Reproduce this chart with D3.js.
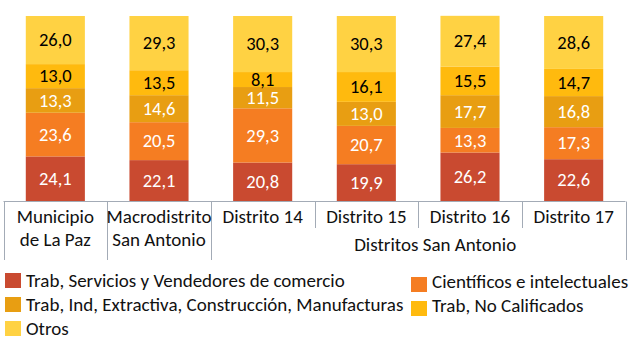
<!DOCTYPE html>
<html>
<head>
<meta charset="utf-8">
<script src="https://cdn.jsdelivr.net/npm/d3@7"></script>
<style>
  body { margin: 0; background: #fff; }
  svg text { font-family: Carlito, Calibri, Lato, sans-serif; }
</style>
</head>
<body>
<svg id="chart" width="630" height="346"></svg>
<script>
// categories along the x axis, with the text split into lines
const categories = ["Municipio de La Paz", "Macrodistrito San Antonio", "Distrito 14", "Distrito 15", "Distrito 16", "Distrito 17"];
const categoryLines = [["Municipio", "de La Paz"], ["Macrodistrito", "San Antonio"], ["Distrito 14"], ["Distrito 15"], ["Distrito 16"], ["Distrito 17"]];
const groupLabel = "Distritos San Antonio";
const groupMembers = ["Distrito 14", "Distrito 15", "Distrito 16", "Distrito 17"];

// percentages per occupation, bottom to top
const trabServicios = [24.1, 22.1, 20.8, 19.9, 26.2, 22.6];
const cientificos = [23.6, 20.5, 29.3, 20.7, 13.3, 17.3];
const trabIndustria = [13.3, 14.6, 11.5, 13.0, 17.7, 16.8];
const noCalificados = [13.0, 13.5, 8.1, 16.1, 15.5, 14.7];
const otros = [26.0, 29.3, 30.3, 30.3, 27.4, 28.6];

const seriesNames = [
  "Trab, Servicios y Vendedores de comercio",
  "Científicos e intelectuales",
  "Trab, Ind, Extractiva, Construcción, Manufacturas",
  "Trab, No Calificados",
  "Otros"
];
const seriesValues = [trabServicios, cientificos, trabIndustria, noCalificados, otros];
const seriesColors = ["#C94A30", "#F57D22", "#E89E12", "#FFBA0E", "#FFD243"];
const labelColors = ["#fff", "#fff", "#fff", "#000", "#000"];

const svg = d3.select("#chart");

// rows for d3.stack
const rows = categories.map((c, i) => {
  const row = { category: c };
  seriesNames.forEach((s, k) => { row[s] = seriesValues[k][i]; });
  return row;
});
const stacked = d3.stack().keys(seriesNames)(rows);

const x = d3.scaleBand()
  .domain(categories)
  .range([3.5, 625.5])
  .paddingInner(0.43)
  .paddingOuter(0.215);

// band edges for the axis separators (no padding)
const xEdge = d3.scaleBand().domain(categories).range([3.5, 625.5]);

const y = d3.scaleLinear().domain([0, 100]).range([201, 16]);

const fmt = v => d3.format(".1f")(v).replace(".", ",");

const layers = svg.append("g").selectAll("g")
  .data(stacked)
  .join("g")
  .attr("fill", (d, k) => seriesColors[k]);

layers.selectAll("rect")
  .data(d => d)
  .join("rect")
  .attr("x", d => x(d.data.category))
  .attr("width", x.bandwidth())
  .attr("y", d => y(d[1]))
  .attr("height", d => y(d[0]) - y(d[1]));

// value labels in the middle of each segment
layers.each(function(layer, k) {
  d3.select(this).selectAll("text")
    .data(layer)
    .join("text")
    .attr("x", d => x(d.data.category) + x.bandwidth() / 2)
    .attr("y", d => (y(d[0]) + y(d[1])) / 2)
    .attr("dy", "0.34em")
    .attr("text-anchor", "middle")
    .attr("font-size", 18.5)
    .attr("fill", labelColors[k])
    .text(d => fmt(d[1] - d[0]));
});

// category axis with a grouped second level
const axis = svg.append("g").attr("stroke", "#A3ABB6").attr("stroke-width", 1);
axis.append("line")
  .attr("x1", xEdge.range()[0]).attr("x2", xEdge.range()[1])
  .attr("y1", 201.5).attr("y2", 201.5);

const groupStart = categories.indexOf(groupMembers[0]);
const edges = categories.map(c => xEdge(c)).concat([xEdge.range()[1]]);
edges.forEach((ex, i) => {
  const inner = i > groupStart && i < groupStart + groupMembers.length;
  axis.append("line")
    .attr("x1", Math.round(ex) + 0.5).attr("x2", Math.round(ex) + 0.5)
    .attr("y1", 201.5).attr("y2", inner ? 228 : 260);
});

const catText = svg.append("g")
  .attr("font-size", 19)
  .attr("fill", "#111")
  .attr("text-anchor", "middle");

categoryLines.forEach((lines, i) => {
  const cx = xEdge(categories[i]) + xEdge.bandwidth() / 2;
  lines.forEach((t, j) => {
    catText.append("text")
      .attr("x", cx)
      .attr("y", 217 + j * 23)
      .attr("dy", "0.34em")
      .text(t);
  });
});

const gx0 = xEdge(groupMembers[0]);
const gx1 = xEdge(groupMembers[groupMembers.length - 1]) + xEdge.bandwidth();
catText.append("text")
  .attr("x", (gx0 + gx1) / 2 + 17)
  .attr("y", 245)
  .attr("dy", "0.34em")
  .text(groupLabel);

// legend, two columns
const legendPos = [
  { x: 5, y: 273 }, { x: 411, y: 277 },
  { x: 5, y: 297 }, { x: 411, y: 301 },
  { x: 5, y: 321 }
];
const legend = svg.append("g").selectAll("g")
  .data(seriesNames)
  .join("g")
  .attr("transform", (d, k) => `translate(${legendPos[k].x},${legendPos[k].y})`);

legend.append("rect")
  .attr("width", 16)
  .attr("height", 15)
  .attr("fill", (d, k) => seriesColors[k]);

legend.append("text")
  .attr("x", 21)
  .attr("y", (d, k) => k % 2 === 1 && k < 4 ? 5 : 8)
  .attr("dy", "0.34em")
  .attr("font-size", 19)
  .attr("fill", "#111")
  .text(d => d);
</script>
</body>
</html>
